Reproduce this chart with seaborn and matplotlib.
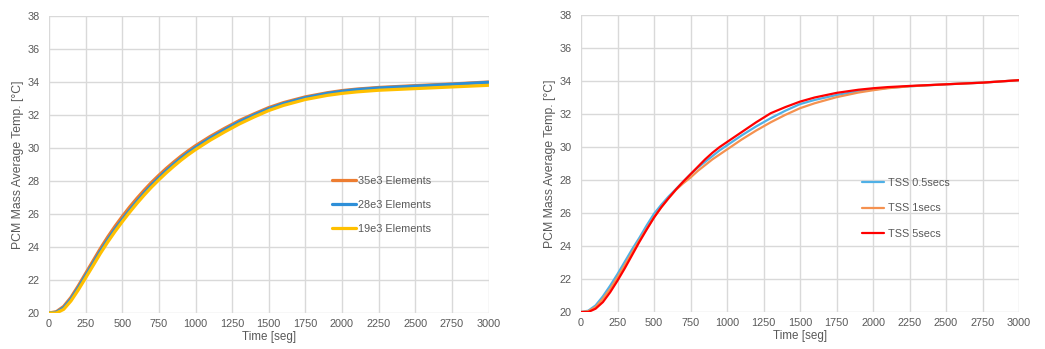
import numpy as np
import pandas as pd
import matplotlib
matplotlib.use("Agg")
import matplotlib.pyplot as plt
import seaborn as sns

# ---------------- data ----------------
time_s = [0, 50, 100, 150, 200, 250, 300, 350, 400, 450, 500, 550, 600, 650, 700, 750,
          800, 850, 900, 950, 1000, 1100, 1200, 1300, 1400, 1500, 1600, 1750, 1900, 2000,
          2100, 2250, 2500, 2750, 3000]

mesh_35e3 = [20.0, 20.08, 20.4, 20.95, 21.65, 22.4, 23.15, 23.9, 24.6, 25.25, 25.85, 26.42,
             26.95, 27.45, 27.92, 28.35, 28.76, 29.14, 29.5, 29.83, 30.14, 30.7, 31.2, 31.67,
             32.07, 32.45, 32.75, 33.1, 33.35, 33.48, 33.57, 33.67, 33.78, 33.88, 34.0]
mesh_28e3 = [20.0, 20.04, 20.32, 20.85, 21.53, 22.27, 23.0, 23.74, 24.43, 25.07, 25.66, 26.23,
             26.77, 27.28, 27.76, 28.2, 28.62, 29.01, 29.38, 29.72, 30.03, 30.6, 31.11, 31.59,
             32.0, 32.38, 32.69, 33.05, 33.31, 33.44, 33.54, 33.64, 33.75, 33.86, 33.98]
mesh_19e3 = [20.0, 20.0, 20.22, 20.73, 21.4, 22.13, 22.86, 23.6, 24.29, 24.93, 25.53, 26.1,
             26.64, 27.15, 27.63, 28.07, 28.49, 28.88, 29.25, 29.59, 29.9, 30.47, 30.98, 31.46,
             31.88, 32.27, 32.58, 32.94, 33.19, 33.31, 33.4, 33.5, 33.6, 33.7, 33.8]
labels_left = ["35e3 Elements", "28e3 Elements", "19e3 Elements"]

tss_05 = [20.0, 20.08, 20.4, 20.95, 21.6, 22.3, 23.05, 23.8, 24.5, 25.25, 25.95, 26.5,
          27.0, 27.45, 27.9, 28.35, 28.75, 29.1, 29.45, 29.8, 30.1, 30.7, 31.25, 31.75,
          32.2, 32.6, 32.85, 33.15, 33.38, 33.48, 33.58, 33.68, 33.8, 33.9, 34.05]
tss_1 = [20.0, 20.05, 20.3, 20.8, 21.4, 22.1, 22.85, 23.6, 24.35, 25.05, 25.75, 26.35,
         26.9, 27.4, 27.8, 28.15, 28.55, 28.9, 29.25, 29.55, 29.85, 30.45, 31.0, 31.5,
         31.95, 32.35, 32.65, 33.02, 33.3, 33.44, 33.56, 33.68, 33.8, 33.9, 34.05]
tss_5 = [20.0, 20.0, 20.2, 20.6, 21.2, 21.9, 22.65, 23.45, 24.25, 25.0, 25.72, 26.35,
         26.9, 27.42, 27.9, 28.35, 28.8, 29.25, 29.65, 30.0, 30.3, 30.9, 31.5, 32.05,
         32.42, 32.75, 33.0, 33.28, 33.47, 33.56, 33.63, 33.7, 33.8, 33.9, 34.05]
labels_right = ["TSS 0.5secs", "TSS 1secs", "TSS 5secs"]

x_ticks = [0, 250, 500, 750, 1000, 1250, 1500, 1750, 2000, 2250, 2500, 2750, 3000]
y_ticks = [20, 22, 24, 26, 28, 30, 32, 34, 36, 38]

# ---------------- style ----------------
sns.set_theme(style="white")
plt.rcParams["font.family"] = ["Liberation Sans", "DejaVu Sans"]
TXT = "#595959"
GRID = "#D9D9D9"

fig = plt.figure(figsize=(10.45, 3.49), dpi=100)
axL = fig.add_axes([49 / 1045, 1 - 313 / 349, 439.5 / 1045, 297 / 349])
axR = fig.add_axes([581 / 1045, 1 - 312 / 349, 438 / 1045, 297 / 349])


def long_df(t, series, names):
    frames = []
    for s, n in zip(series, names):
        frames.append(pd.DataFrame({"t": t, "T": s, "series": n}))
    return pd.concat(frames, ignore_index=True)


dfL = long_df(time_s, [mesh_35e3, mesh_28e3, mesh_19e3], labels_left)
dfR = long_df(time_s, [tss_05, tss_1, tss_5], labels_right)

palL = {labels_left[0]: "#ED7D31", labels_left[1]: "#2E8FD8", labels_left[2]: "#FFC000"}
palR = {labels_right[0]: "#4FB0E6", labels_right[1]: "#F5914F", labels_right[2]: "#FF0000"}

sns.lineplot(data=dfL, x="t", y="T", hue="series", hue_order=labels_left,
             palette=palL, linewidth=2.3, sort=False, ax=axL)
sns.lineplot(data=dfR, x="t", y="T", hue="series", hue_order=labels_right,
             palette=palR, linewidth=1.6, sort=False, ax=axR)

for ax in (axL, axR):
    ax.set_xlim(0, 3000)
    ax.set_ylim(20, 38)
    ax.set_xticks(x_ticks)
    ax.set_yticks(y_ticks)
    ax.grid(True, color=GRID, linewidth=1.0)
    ax.set_axisbelow(True)
    for sp in ax.spines.values():
        sp.set_visible(False)
    ax.tick_params(axis="both", length=0, labelsize=7.8, colors=TXT)
    ax.tick_params(axis="y", pad=6.5)
    ax.tick_params(axis="x", pad=4)
    ax.set_xlabel("Time [seg]", fontsize=8.4, color=TXT, labelpad=2)
    ax.set_ylabel("PCM Mass Average Temp. [°C]", fontsize=8.8, color=TXT, labelpad=3)

legL = axL.legend(loc="upper left", bbox_to_anchor=(0.644, 0.462), frameon=False,
                  fontsize=7.8, handlelength=2.2, handletextpad=0.2, labelspacing=1.3,
                  borderpad=0, borderaxespad=0)
for t in legL.get_texts():
    t.set_color(TXT)
for h in legL.get_lines():
    h.set_linewidth(2.3)

legR = axR.legend(loc="upper left", bbox_to_anchor=(0.642, 0.452), frameon=False,
                  fontsize=7.8, handlelength=2.0, handletextpad=0.4, labelspacing=1.45,
                  borderpad=0, borderaxespad=0)
for t in legR.get_texts():
    t.set_color(TXT)
for h in legR.get_lines():
    h.set_linewidth(1.6)

fig.savefig("out.png", dpi=100, facecolor="white")
